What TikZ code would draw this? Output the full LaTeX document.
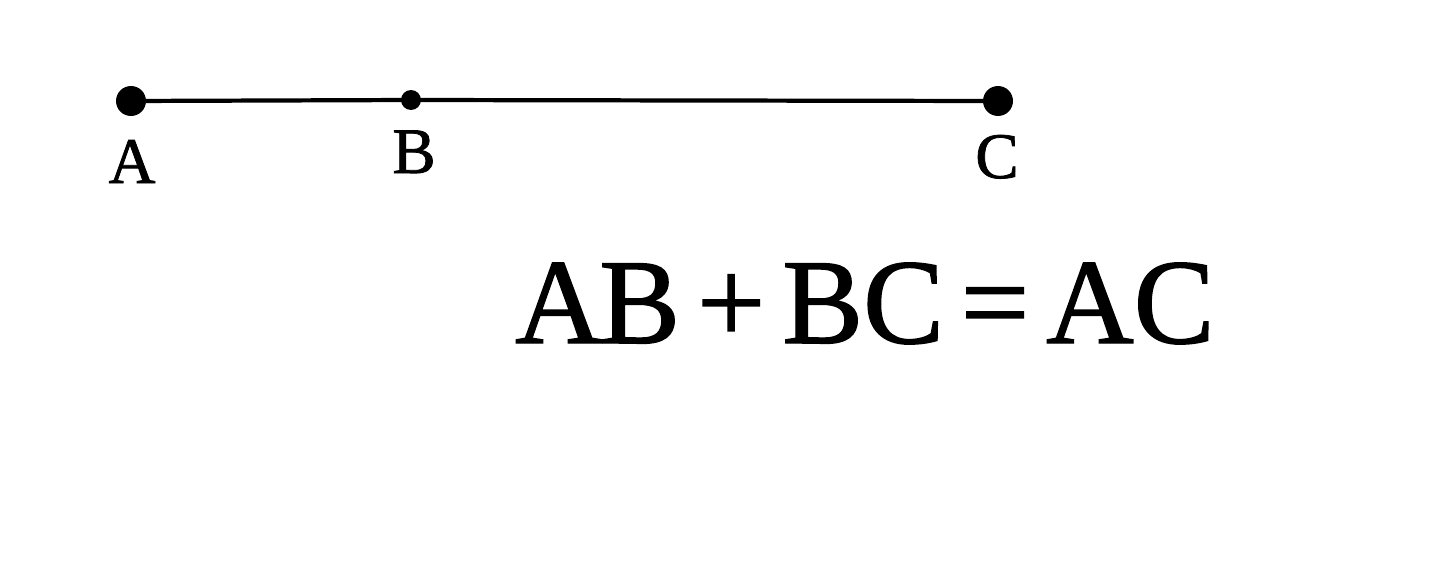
\documentclass[tikz,border=0pt]{standalone}
\usepackage{fontspec}
\setmainfont{Liberation Serif}
\newfontfamily\boldish[FakeBold=1.2]{Liberation Serif}
\begin{document}
\begin{tikzpicture}[x=0.02cm,y=-0.02cm,
  bigdot/.style={circle,fill=black,inner sep=0pt,minimum size=0.6cm},
  smalldot/.style={circle,fill=black,inner sep=0pt,minimum size=0.4cm},
  ptlabel/.style={anchor=base,inner sep=0pt,font=\boldish\fontsize{37}{44}\selectfont},
  eqlabel/.style={anchor=base,inner sep=0pt,font=\boldish\fontsize{69}{84}\selectfont}]
\useasboundingbox (0,0) rectangle (1440,568);
\node[bigdot] (A) at (131,101) {};
\node[smalldot] (B) at (411,100) {};
\node[bigdot] (C) at (998,101) {};
\draw[line width=2.4pt] (A.center) -- (B.center) -- (C.center);
\node[ptlabel] (la) at (132,183) {A};
\node[ptlabel] (lb) at (414,173) {B};
\node[ptlabel] (lc) at (997,178) {C};
\node[eqlabel] (eq) at (865,343) {A\kern-0.03em B\hspace{0.14em}+\hspace{0.14em}BC\hspace{0.14em}=\hspace{0.14em}AC};
\end{tikzpicture}
\end{document}
